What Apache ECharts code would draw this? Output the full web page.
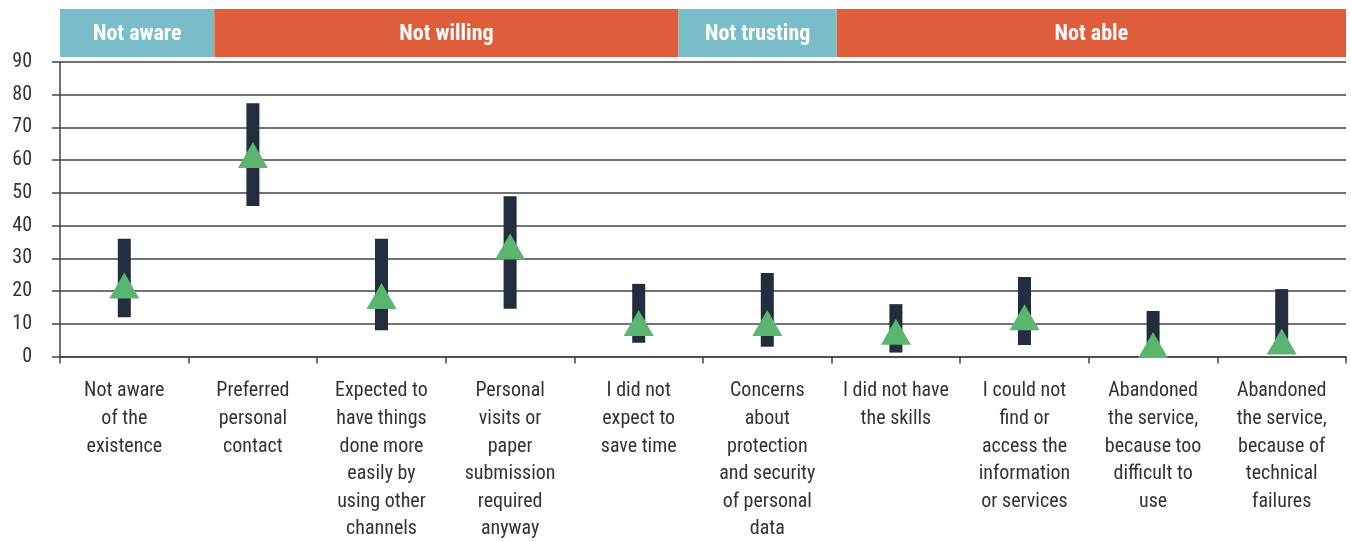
<!DOCTYPE html>
<html>
<head>
<meta charset="utf-8">
<title>Reasons for not using e-government services</title>
<script src="https://cdn.jsdelivr.net/npm/echarts@6/dist/echarts.min.js"></script>
<style>
  html, body { margin: 0; padding: 0; background: #fff; }
  #chart { width: 1351px; height: 542px; }
</style>
</head>
<body>
<div id="chart"></div>
<script>
// categories (x axis), with the line breaks used in the picture
var categories = [
    'Not aware\nof the\nexistence',
    'Preferred\npersonal\ncontact',
    'Expected to\nhave things\ndone more\neasily by\nusing other\nchannels',
    'Personal\nvisits or\npaper\nsubmission\nrequired\nanyway',
    'I did not\nexpect to\nsave time',
    'Concerns\nabout\nprotection\nand security\nof personal\ndata',
    'I did not have\nthe skills',
    'I could not\nfind or\naccess the\ninformation\nor services',
    'Abandoned\nthe service,\nbecause too\ndifficult to\nuse',
    'Abandoned\nthe service,\nbecause of\ntechnical\nfailures'
];
// range (min / max) shown by the dark bars
var lowValues  = [12, 46, 8, 14.6, 4.2, 3, 1.2, 3.5, 0.5, 1.5];
var highValues = [36, 77.4, 36, 49, 22.2, 25.5, 16, 24.3, 13.9, 20.6];
// average shown by the green triangles
var avgValues  = [21.7, 61.6, 18.5, 33.6, 10.2, 10.2, 7.6, 12, 3.5, 4.6];
// y axis ticks
var yTicks = [0, 10, 20, 30, 40, 50, 60, 70, 80, 90];

// header groups, measured in category units
var groupNames  = ['Not aware', 'Not willing', 'Not trusting', 'Not able'];
var groupStart  = [0, 1.2, 4.81, 6.04];
var groupEnd    = [1.2, 4.81, 6.04, 10];
var groupColors = ['#79bdc8', '#e05d3c', '#79bdc8', '#e05d3c'];

var font = "'Liberation Sans Narrow', 'Roboto Condensed', 'DejaVu Sans Condensed', sans-serif";
var lineColor = '#444';

var myChart = echarts.init(document.getElementById('chart'));

var option = {
    animation: false,
    grid: { left: 60, right: 5, top: 62, bottom: 185.5, outerBoundsMode: 'none', containLabel: false },
    xAxis: [
        {
            type: 'category',
            data: categories,
            axisLine: { lineStyle: { color: lineColor, width: 1.5 } },
            axisTick: { show: true, length: 7, lineStyle: { color: lineColor, width: 1.5 } },
            axisLabel: {
                interval: 0,
                margin: 21,
                fontFamily: font,
                fontSize: 20,
                lineHeight: 27.6,
                color: '#333',
                align: 'center'
            }
        },
        // hidden helper axis for the header bands
        { type: 'value', min: 0, max: 10, show: false }
    ],
    yAxis: {
        type: 'value',
        min: yTicks[0],
        max: yTicks[yTicks.length - 1],
        interval: 10,
        axisLine: { show: true, lineStyle: { color: lineColor, width: 1.5 } },
        axisTick: { show: true, length: 8, lineStyle: { color: lineColor, width: 1.5 } },
        axisLabel: { margin: 28, fontFamily: font, fontSize: 20, color: '#333' },
        splitLine: { lineStyle: { color: lineColor, width: 1.5 } }
    },
    series: [
        {
            // header bands above the plot
            type: 'custom',
            xAxisIndex: 1,
            clip: false,
            silent: true,
            encode: { x: [0, 1] },
            data: groupNames.map(function (n, i) { return [groupStart[i], groupEnd[i], i]; }),
            renderItem: function (params, api) {
                var i = api.value(2);
                var x0 = api.coord([api.value(0), 90])[0];
                var x1 = api.coord([api.value(1), 90])[0];
                var top = api.coord([0, 90])[1];
                return {
                    type: 'group',
                    children: [
                        {
                            type: 'rect',
                            shape: { x: x0, y: top - 53, width: x1 - x0, height: 48 },
                            style: { fill: groupColors[i] }
                        },
                        {
                            type: 'text',
                            x: (x0 + x1) / 2,
                            y: top - 28,
                            style: {
                                text: groupNames[i],
                                fill: '#fff',
                                font: 'bold 22px ' + font,
                                align: 'center',
                                verticalAlign: 'middle'
                            }
                        }
                    ]
                };
            }
        },
        {
            // min-max range bars
            type: 'custom',
            z: 3,
            encode: { x: 0, y: [1, 2] },
            data: categories.map(function (c, i) { return [i, lowValues[i], highValues[i]]; }),
            renderItem: function (params, api) {
                var lo = api.coord([api.value(0), api.value(1)]);
                var hi = api.coord([api.value(0), api.value(2)]);
                return {
                    type: 'rect',
                    shape: { x: lo[0] - 6.5, y: hi[1], width: 13, height: lo[1] - hi[1] },
                    style: { fill: '#222e3e' }
                };
            }
        },
        {
            // averages
            type: 'scatter',
            z: 4,
            symbol: 'triangle',
            symbolSize: [30, 26],
            itemStyle: { color: '#5bb470', opacity: 1 },
            data: avgValues
        }
    ]
};

myChart.setOption(option);
</script>
</body>
</html>
